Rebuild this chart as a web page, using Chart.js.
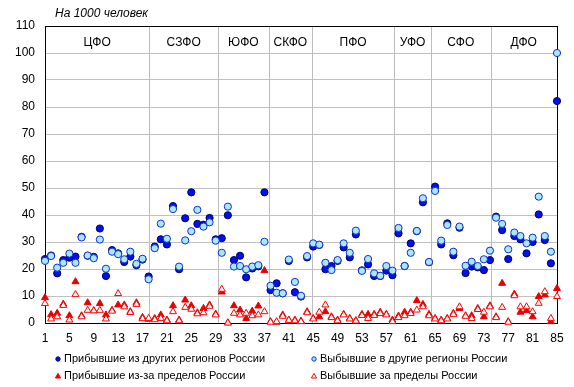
<!DOCTYPE html>
<html>
<head>
<meta charset="utf-8">
<script src="https://cdn.jsdelivr.net/npm/chart.js@4.4.1/dist/chart.umd.min.js"></script>
<style>
  html, body { margin: 0; padding: 0; background: #fff; }
</style>
</head>
<body>
<canvas id="migration-chart" width="574" height="387"></canvas>
<script>
const regions = [
  1, 2, 3, 4, 5, 6, 7, 8, 9, 10, 11, 12, 13, 14, 15, 16, 17, 18, 19, 20,
  21, 22, 23, 24, 25, 26, 27, 28, 29, 30, 31, 32, 33, 34, 35, 36, 37, 38, 39, 40,
  41, 42, 43, 44, 45, 46, 47, 48, 49, 50, 51, 52, 53, 54, 55, 56, 57, 58, 59, 60,
  61, 62, 63, 64, 65, 66, 67, 68, 69, 70, 71, 72, 73, 74, 75, 76, 77, 78, 79, 80,
  81, 82, 83, 84, 85
];

// Прибывшие из других регионов России
const fromRegions = [
  23.7, 25.0, 18.4, 23.3, 24.2, 24.6, 31.9, 24.9, 24.5, 35.0,
  17.4, 27.0, 25.8, 22.6, 24.6, 21.4, 23.5, 17.2, 28.3, 31.0,
  29.1, 43.3, 19.9, 38.8, 48.4, 36.7, 36.4, 38.9, 31.0, 31.4,
  39.9, 23.3, 24.9, 16.9, 20.2, 21.0, 48.4, 12.2, 14.7, 11.0,
  23.0, 11.4, 9.8, 24.3, 28.3, 28.9, 19.9, 21.1, 23.0, 28.0,
  24.3, 32.8, 19.5, 21.7, 17.4, 17.4, 19.4, 17.7, 33.2, 21.1,
  29.5, 34.0, 44.7, 22.5, 50.5, 29.1, 36.9, 25.1, 35.3, 18.5,
  20.9, 20.6, 19.6, 23.3, 39.4, 34.4, 23.7, 32.2, 31.0, 25.8,
  30.0, 40.2, 30.7, 22.1, 82.2
];

// Выбывшие в другие регионы России
const toRegions = [
  23.0, 24.8, 20.5, 22.3, 25.7, 22.3, 31.7, 25.0, 24.0, 30.9,
  20.1, 26.4, 25.5, 23.6, 26.4, 21.9, 23.8, 16.2, 27.7, 36.8,
  31.2, 42.2, 20.9, 30.6, 34.0, 41.9, 35.7, 37.3, 30.5, 26.0,
  43.1, 20.9, 21.1, 19.9, 20.9, 21.4, 30.1, 13.8, 11.2, 11.0,
  23.5, 15.2, 10.1, 24.8, 29.5, 29.0, 22.3, 19.6, 23.3, 29.5,
  26.0, 34.2, 19.3, 23.7, 18.4, 17.5, 21.1, 19.4, 35.2, 21.1,
  26.0, 34.1, 46.2, 22.6, 48.9, 30.5, 36.3, 26.4, 35.7, 21.2,
  22.7, 21.1, 23.6, 26.8, 39.0, 36.7, 27.3, 33.5, 32.2, 29.5,
  31.6, 46.8, 32.2, 26.4, 100.0
];

// Прибывшие из-за пределов России
const fromAbroad = [
  9.4, 3.1, 3.6, 7.0, 2.7, 15.3, 2.7, 7.5, 4.6, 7.2,
  3.0, 4.7, 6.7, 6.7, 4.2, 7.5, 2.1, 1.4, 1.7, 3.0,
  1.1, 6.4, 1.1, 8.5, 6.4, 3.8, 5.4, 6.7, 3.3, 11.5,
  0.1, 6.4, 4.8, 1.7, 4.4, 6.3, 19.4, 0.5, 0.3, 3.0,
  1.1, 1.1, 0.7, 4.2, 1.7, 2.3, 4.2, 2.3, 1.1, 3.2,
  1.7, 0.9, 3.2, 3.2, 3.2, 4.0, 3.2, 1.1, 2.6, 4.0,
  4.0, 8.3, 6.9, 3.2, 1.7, 1.1, 1.7, 3.6, 5.4, 2.7,
  2.7, 5.4, 2.3, 6.4, 2.3, 14.7, 0.5, 10.7, 4.0, 4.6,
  2.3, 9.8, 10.4, 0.5, 12.8
];

// Выбывшие за пределы России
const toAbroad = [
  7.2, 1.5, 2.3, 6.5, 1.1, 10.6, 2.3, 4.7, 4.5, 4.7,
  1.5, 4.4, 10.9, 6.0, 3.9, 6.9, 1.6, 1.7, 1.2, 1.7,
  0.8, 4.2, 0.8, 5.8, 5.1, 3.4, 3.8, 6.2, 3.0, 12.5,
  0.0, 3.6, 3.0, 3.6, 2.7, 3.0, 4.2, 0.3, 0.5, 2.5,
  1.0, 0.8, 0.5, 3.8, 1.5, 4.0, 6.7, 2.0, 0.8, 3.0,
  1.5, 0.7, 2.8, 1.7, 2.8, 3.5, 3.0, 0.5, 2.0, 2.7,
  3.5, 4.8, 6.0, 2.7, 1.5, 0.8, 1.5, 3.2, 6.0, 2.5,
  1.7, 5.0, 4.0, 6.0, 2.0, 5.8, 0.3, 10.1, 6.0, 6.0,
  4.2, 7.3, 11.6, 1.7, 9.8
];

const xTickLabels = [1, 5, 9, 13, 17, 21, 25, 29, 33, 37, 41, 45, 49, 53, 57, 61, 65, 69, 73, 77, 81, 85];
const districts = ['ЦФО', 'СЗФО', 'ЮФО', 'СКФО', 'ПФО', 'УФО', 'СФО', 'ДФО'];
const districtBounds = [18.1, 29.4, 37.7, 44.8, 58.3, 64.3, 74.1];

const FONT = '"Liberation Sans", Arial, sans-serif';

const toPoints = vals => regions.map((r, i) => ({x: r, y: vals[i]}));

const styles = [
  {label: 'Прибывшие из других регионов России', shape: 'circle', fill: '#0010f0', stroke: '#00006a'},
  {label: 'Выбывшие в другие регионы России', shape: 'circle', fill: '#a9e6fa', stroke: '#1030c8'},
  {label: 'Прибывшие из-за пределов России', shape: 'triangle', fill: '#e80000', stroke: '#e80000'},
  {label: 'Выбывшие за пределы России', shape: 'triangle', fill: '#ffffff', stroke: '#ff0000'}
];

const overlay = {
  id: 'overlay',
  beforeDatasetsDraw(chart) {
    const {ctx, chartArea: a, scales: {x}} = chart;
    ctx.save();
    // district separators
    ctx.strokeStyle = '#bdbdbd';
    ctx.lineWidth = 1;
    districtBounds.forEach(b => {
      const px = Math.round(x.getPixelForValue(b)) + 0.5;
      ctx.beginPath();
      ctx.moveTo(px, a.top);
      ctx.lineTo(px, a.bottom);
      ctx.stroke();
    });
    // plot frame
    ctx.strokeStyle = '#000';
    ctx.strokeRect(Math.round(a.left) + 0.5, Math.round(a.top) + 0.5,
      Math.round(a.right - a.left), Math.round(a.bottom - a.top));
    // district names
    ctx.fillStyle = '#000';
    ctx.font = '12px ' + FONT;
    ctx.textAlign = 'center';
    ctx.textBaseline = 'middle';
    const edges = [x.min, ...districtBounds, x.max];
    districts.forEach((d, i) => {
      const cx = (x.getPixelForValue(edges[i]) + x.getPixelForValue(edges[i + 1])) / 2;
      ctx.fillText(d, cx, a.top + 17);
    });
    ctx.restore();
  },
  afterDraw(chart) {
    const {ctx} = chart;
    ctx.save();
    ctx.fillStyle = '#000';
    ctx.font = 'italic 12px ' + FONT;
    ctx.textAlign = 'left';
    ctx.textBaseline = 'middle';
    ctx.fillText('На 1000 человек', 55, 14);

    // legend, two columns
    ctx.font = '11px ' + FONT;
    const cols = [58, 314];
    const rows = [359, 376];
    styles.forEach((s, i) => {
      const mx = cols[i % 2];
      const my = rows[Math.floor(i / 2)];
      ctx.fillStyle = s.fill;
      ctx.strokeStyle = s.stroke;
      ctx.lineWidth = 1;
      ctx.beginPath();
      if (s.shape === 'circle') {
        ctx.arc(mx, my, 2.2, 0, Math.PI * 2);
      } else {
        ctx.moveTo(mx, my - 2.6);
        ctx.lineTo(mx + 2.6, my + 2);
        ctx.lineTo(mx - 2.6, my + 2);
        ctx.closePath();
      }
      ctx.fill();
      ctx.stroke();
      ctx.fillStyle = '#000';
      ctx.fillText(s.label, mx + 6, my);
    });
    ctx.restore();
  }
};

const makeSet = (vals, s, order, radius) => ({
  label: s.label,
  data: toPoints(vals),
  pointStyle: s.shape,
  backgroundColor: s.fill,
  borderColor: s.stroke,
  borderWidth: 1,
  pointRadius: radius,
  pointHoverRadius: radius,
  order: order,
  clip: false
});

new Chart(document.getElementById('migration-chart').getContext('2d'), {
  type: 'scatter',
  data: {
    datasets: [
      makeSet(fromRegions, styles[0], 4, 3.6),
      makeSet(toRegions, styles[1], 3, 3.6),
      makeSet(fromAbroad, styles[2], 2, 4),
      makeSet(toAbroad, styles[3], 1, 4)
    ]
  },
  options: {
    responsive: false,
    animation: false,
    layout: {padding: {top: 26, right: 17, bottom: 0, left: 0}},
    plugins: {
      legend: {display: false},
      tooltip: {enabled: false}
    },
    scales: {
      x: {
        type: 'linear',
        min: 1,
        max: 85,
        afterBuildTicks: scale => { scale.ticks = xTickLabels.map(v => ({value: v})); },
        afterFit: scale => { scale.height = 64; },
        grid: {display: false, drawTicks: false},
        border: {display: true, color: '#000'},
        ticks: {
          color: '#000',
          font: {family: FONT, size: 12},
          padding: 8,
          maxRotation: 0,
          autoSkip: false
        }
      },
      y: {
        min: 0,
        max: 110,
        afterFit: scale => { scale.width = 45; },
        grid: {color: '#c0c0c0', drawTicks: false},
        border: {display: true, color: '#000'},
        ticks: {
          stepSize: 10,
          color: '#000',
          font: {family: FONT, size: 12},
          padding: 10
        }
      }
    }
  },
  plugins: [overlay]
});
</script>
</body>
</html>
